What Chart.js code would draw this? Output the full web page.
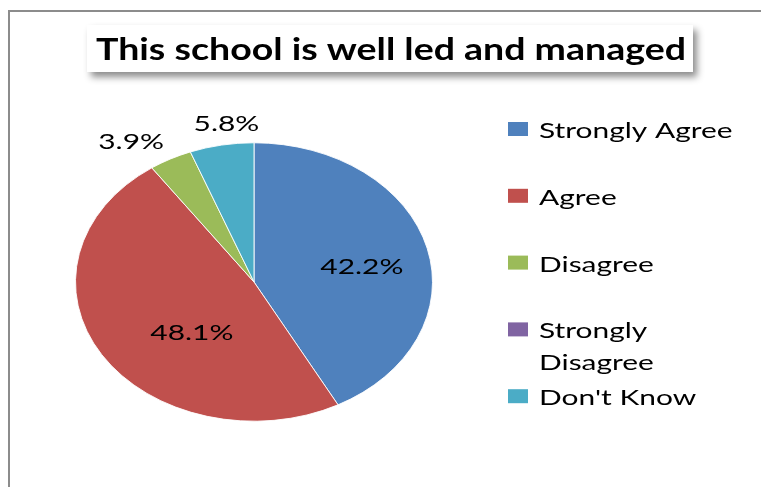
<!DOCTYPE html>
<html>
<head>
<meta charset="utf-8">
<script src="https://cdn.jsdelivr.net/npm/chart.js@4.4.0/dist/chart.umd.min.js"></script>
<style>
    html, body { margin: 0; padding: 0; background: #fff; }
    #wrap { position: relative; width: 761px; height: 487px; overflow: hidden; }
</style>
</head>
<body>
<div id="wrap"><canvas id="pieChart" width="761" height="487"></canvas></div>
<script>
    // chart data
    const chartTitle = "This school is well led and managed";
    const categories = ["Strongly Agree", "Agree", "Disagree", "Strongly Disagree", "Don't Know"];
    const percentages = [42.2, 48.1, 3.9, 0, 5.8];
    const sliceColors = ["#4F81BD", "#C0504D", "#9BBB59", "#8064A2", "#4BACC6"];

    // look
    const SQUISH = 0.78;          // pie is drawn as an ellipse
    const STRETCH = 1.36;         // text in the picture is wider than normal
    const labelRadius = [0.6, 0.5, 1.22, 0, 1.16];
    const labelShift = [[4, 4], [14, 14], [-21, 9], [0, 0], [10, 0]];
    const FONT = "Lato, 'Open Sans', sans-serif";

    function stretchedText(ctx, text, x, y, sx, align) {
        ctx.save();
        ctx.translate(x, y);
        ctx.scale(sx, 1);
        ctx.textAlign = align || "left";
        ctx.fillText(text, 0, 0);
        ctx.restore();
    }

    const decorPlugin = {
        id: "decor",
        beforeDraw(chart) {
            const ctx = chart.ctx;
            ctx.save();
            ctx.fillStyle = "#fff";
            ctx.fillRect(0, 0, chart.width, chart.height);
            // frame
            ctx.strokeStyle = "#8c8c8c";
            ctx.lineWidth = 2;
            ctx.beginPath();
            ctx.moveTo(9, chart.height);
            ctx.lineTo(9, 11);
            ctx.lineTo(chart.width, 11);
            ctx.stroke();

            // title box with shadow
            ctx.shadowColor = "rgba(0,0,0,0.45)";
            ctx.shadowBlur = 7;
            ctx.shadowOffsetX = 4;
            ctx.shadowOffsetY = 5;
            ctx.fillStyle = "#fff";
            ctx.fillRect(87, 25, 606, 47);
            ctx.restore();

            ctx.save();
            ctx.fillStyle = "#000";
            ctx.font = "bold 30px " + FONT;
            ctx.textBaseline = "alphabetic";
            const w = ctx.measureText(chartTitle).width;
            stretchedText(ctx, chartTitle, 391, 60, 590 / w, "center");
            ctx.restore();
        },
        beforeDatasetsDraw(chart) {
            const arc = chart.getDatasetMeta(0).data[0];
            const ctx = chart.ctx;
            ctx.save();
            ctx.translate(0, arc.y);
            ctx.scale(1, SQUISH);
            ctx.translate(0, -arc.y);
        },
        afterDatasetsDraw(chart) {
            const ctx = chart.ctx;
            ctx.restore();

            // slice labels
            const meta = chart.getDatasetMeta(0);
            ctx.save();
            ctx.fillStyle = "#000";
            ctx.font = "22px " + FONT;
            ctx.textBaseline = "alphabetic";
            meta.data.forEach((el, i) => {
                const v = percentages[i];
                if (!v) return;
                const mid = (el.startAngle + el.endAngle) / 2;
                const r = el.outerRadius * labelRadius[i];
                const px = el.x + Math.cos(mid) * r + labelShift[i][0];
                const py = el.y + Math.sin(mid) * r * SQUISH + labelShift[i][1];
                stretchedText(ctx, v.toFixed(1) + "%", px, py + 8, STRETCH, "center");
            });

            // legend
            ctx.font = "22px " + FONT;
            categories.forEach((name, i) => {
                const cy = 130 + i * 66.8;
                ctx.fillStyle = sliceColors[i];
                ctx.fillRect(508, cy - 8, 20, 14);
                ctx.fillStyle = "#000";
                const lines = [];
                const words = name.split(" ");
                let line = "";
                words.forEach((wd) => {
                    const test = line ? line + " " + wd : wd;
                    if (line && ctx.measureText(test).width * STRETCH > 210) {
                        lines.push(line);
                        line = wd;
                    } else {
                        line = test;
                    }
                });
                lines.push(line);
                lines.forEach((ln, k) => {
                    stretchedText(ctx, ln, 539, cy + 8 + k * 32, STRETCH, "left");
                });
            });
            ctx.restore();
        },
    };

    const ctx = document.getElementById("pieChart").getContext("2d");
    const pieChart = new Chart(ctx, {
        type: "pie",
        data: {
            labels: categories,
            datasets: [
                {
                    data: percentages,
                    backgroundColor: sliceColors,
                    borderColor: "#ffffff",
                    borderWidth: 1,
                },
            ],
        },
        options: {
            responsive: false,
            animation: false,
            devicePixelRatio: 1,
            layout: {
                padding: { left: 75, right: 328, top: 103, bottom: 26 },
            },
            plugins: {
                legend: { display: false },
                title: { display: false },
                tooltip: { enabled: false },
            },
        },
        plugins: [decorPlugin],
    });
</script>
</body>
</html>
